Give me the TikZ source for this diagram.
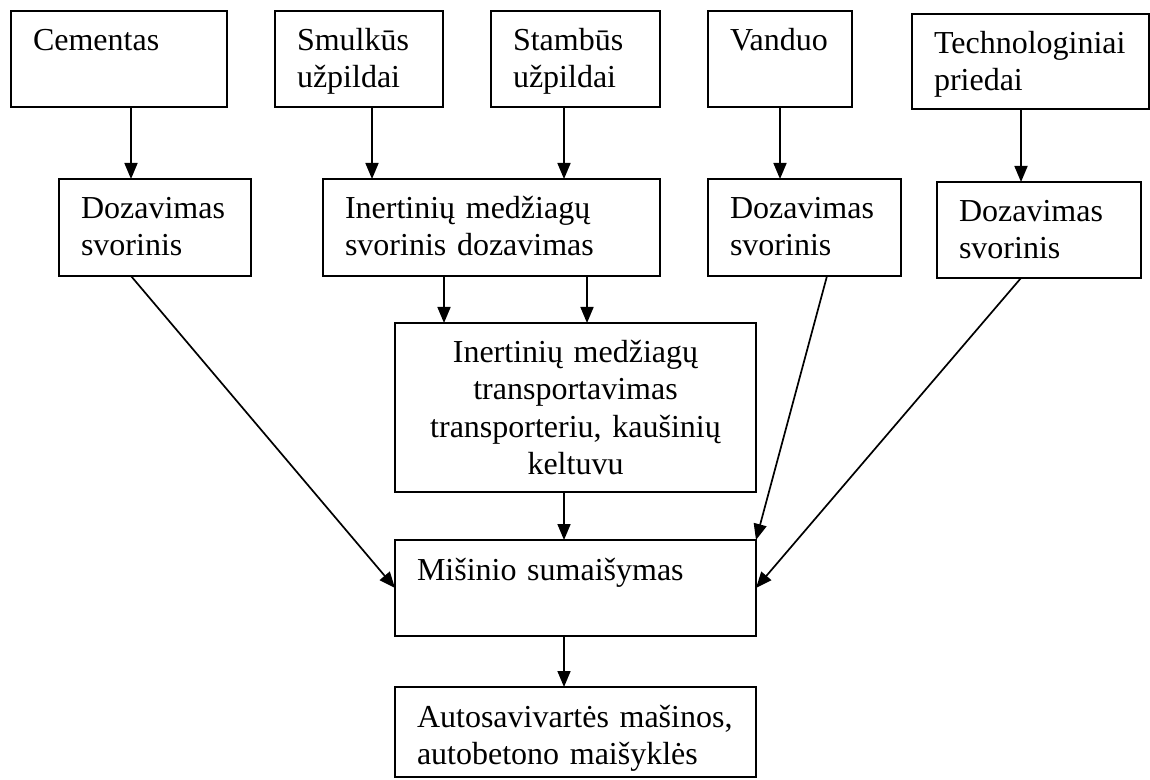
\documentclass[tikz,border=0pt]{standalone}
\usepackage{fontspec}
\setmainfont{Liberation Serif}
\usetikzlibrary{arrows.meta}
\hyphenpenalty=10000

\tikzset{
  blok/.style={draw, line width=1pt, anchor=north west, outer sep=0pt,
    inner xsep=11pt, inner ysep=0pt, align=left, text height=20pt,
    font=\fontsize{16}{18.5}\selectfont},
  rod/.style={-{Triangle[length=8pt,width=6.5pt]}, line width=0.85pt},
}

\begin{document}
\begin{tikzpicture}[x=0.5pt,y=-0.5pt]
      \useasboundingbox (0,0) rectangle (1150,780);

      \node[blok,text width=86pt,text depth=28pt] (cem) at (11,11) {Cementas};
      \node[blok,text width=62pt,text depth=28pt] (smul) at (275,11) {Smulkūs\\užpildai};
      \node[blok,text width=62.5pt,text depth=28pt] (stam) at (491,11) {Stambūs\\užpildai};
      \node[blok,text width=50pt,text depth=28pt] (van) at (708,11) {Vanduo};
      \node[blok,text width=96.5pt,text depth=27.5pt] (tech) at (912,14) {Technologiniai\\priedai};

      \node[blok,text width=74pt,text depth=28.5pt] (doz1) at (59,179) {Dozavimas\\svorinis};
      \node[blok,text width=146.5pt,text depth=28.5pt] (inert) at (323,179) {Inertinių medžiagų\\svorinis dozavimas};
      \node[blok,text width=74.5pt,text depth=28.5pt] (doz3) at (708,179) {Dozavimas\\svorinis};
      \node[blok,text width=80pt,text depth=28pt] (doz4) at (937,182) {Dozavimas\\svorinis};

      \node[blok,align=center,text width=158.5pt,text depth=64.5pt] (trans) at (395,323)
        {Inertinių medžiagų\\transportavimas\\transporteriu, kaušinių\\keltuvu};
      \node[blok,text width=158.5pt,text depth=28pt] (mis) at (395,540) {Mišinio sumaišymas};
      \node[blok,text width=158.5pt,text depth=25pt] (auto) at (395,687) {Autosavivartės mašinos,\\autobetono maišyklės};

      \coordinate (k1) at (131,0);
      \coordinate (k2) at (372,0);
      \coordinate (k3) at (564,0);
      \coordinate (k4) at (780,0);
      \coordinate (k5) at (1021,0);
      \coordinate (k6) at (444,0);
      \coordinate (k7) at (587,0);
      \coordinate (k8) at (827,0);

      \draw[rod] (cem.south -| k1) -- (doz1.north -| k1);
      \draw[rod] (smul.south -| k2) -- (inert.north -| k2);
      \draw[rod] (stam.south -| k3) -- (inert.north -| k3);
      \draw[rod] (van.south -| k4) -- (doz3.north -| k4);
      \draw[rod] (tech.south -| k5) -- (doz4.north -| k5);
      \draw[rod] (inert.south -| k6) -- (trans.north -| k6);
      \draw[rod] (inert.south -| k7) -- (trans.north -| k7);
      \draw[rod] (trans.south -| k3) -- (mis.north -| k3);
      \draw[rod] (mis.south -| k3) -- (auto.north -| k3);
      \draw[rod] (doz1.south -| k1) -- (mis.west);
      \draw[rod] (doz3.south -| k8) -- (mis.north east);
      \draw[rod] (doz4.south -| k5) -- (mis.east);
    \end{tikzpicture}
\end{document}
